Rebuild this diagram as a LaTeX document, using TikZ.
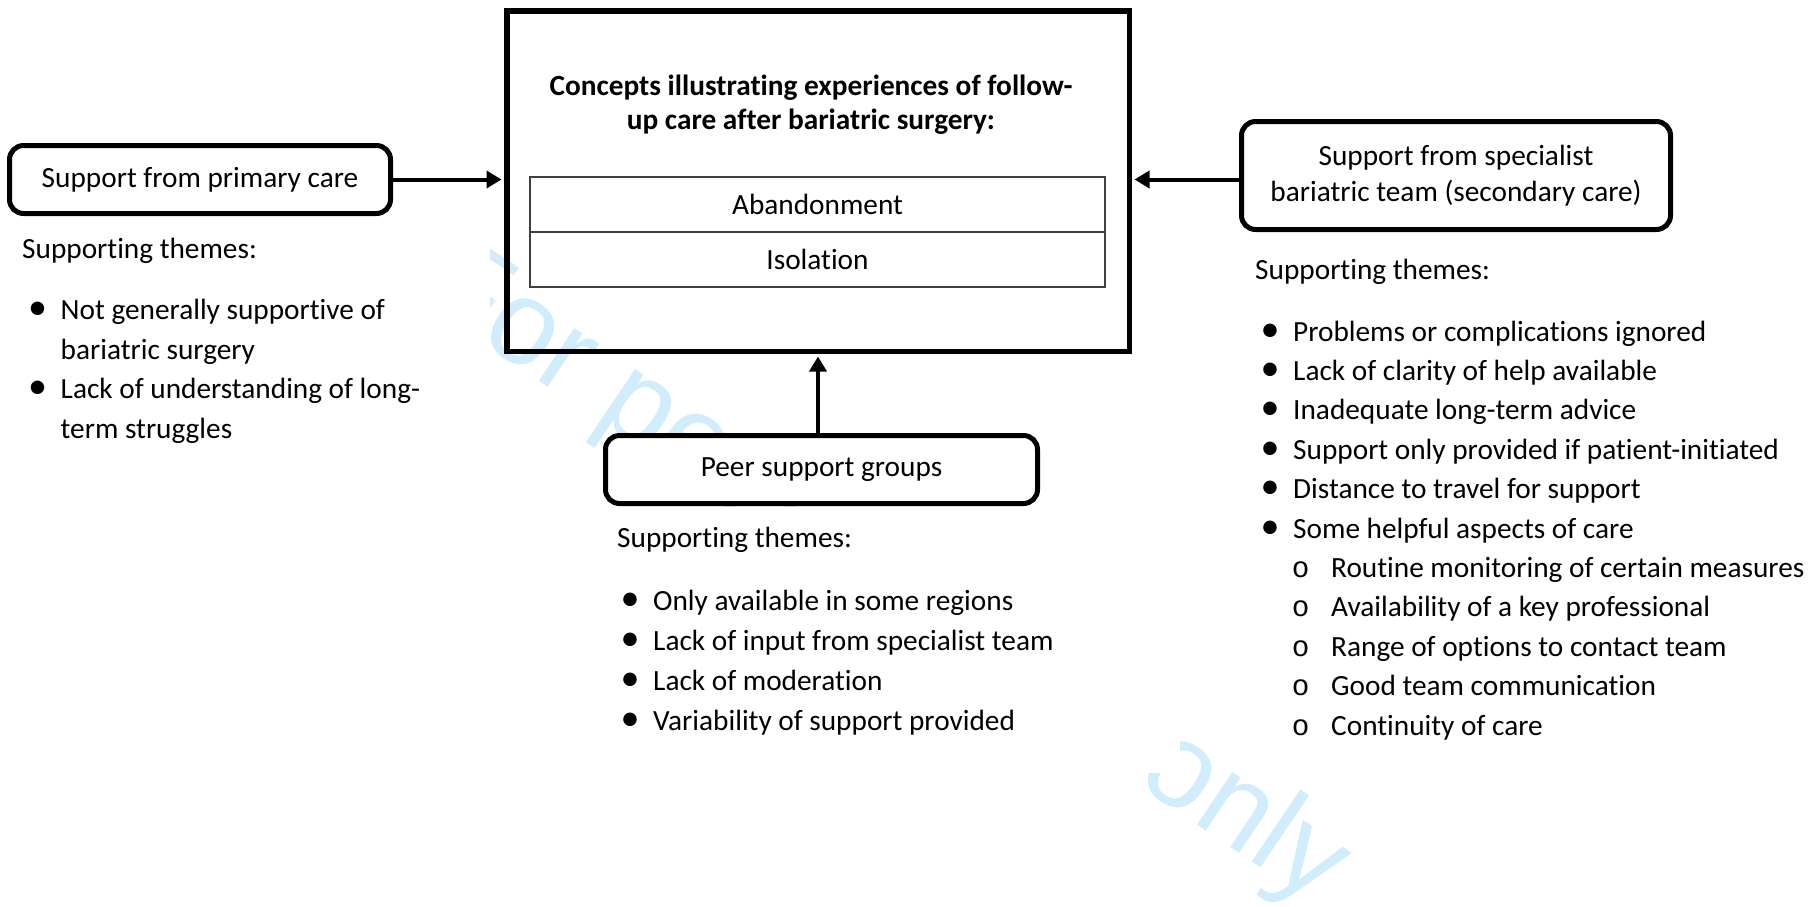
\documentclass[tikz,border=0pt]{standalone}
\usepackage{fontspec}
\setmainfont{Carlito}[Ligatures=NoCommon]
\newfontfamily\wmfont{Liberation Sans}
\newfontfamily\subfont{Liberation Mono}
\usetikzlibrary{arrows.meta}
\definecolor{wmcol}{RGB}{207,237,251}
\newcommand\bodyfont{\fontsize{29.3}{39.4}\selectfont}
\newcommand\leftfont{\fontsize{29.3}{39.7}\selectfont}
\newcommand\peerfont{\fontsize{29.3}{40}\selectfont}
\newcommand\boxfont{\fontsize{29.3}{35.7}\selectfont}
\newcommand\titlefont{\fontsize{29.3}{34}\selectfont\bfseries}
\newcommand\bul{\makebox[0pt]{\scalebox{1.3}{\textbullet}}\hspace*{23pt}}
\newcommand\contl{\hspace*{23pt}}
\newcommand\subbul{\hspace*{30.5pt}\makebox[0pt]{\subfont o}\hspace*{30.5pt}}
\tikzset{
  wm/.style={font=\wmfont\fontsize{120}{120}\selectfont, text=wmcol, inner sep=0pt},
  mainbox/.style={draw, line width=5.5pt, inner sep=0pt},
  cell/.style={draw=black!75, line width=1.3pt, minimum width=575pt, minimum height=55pt, inner sep=0pt, font=\boxfont},
  sbox/.style={draw, line width=5pt, rounded corners=14pt, inner sep=0pt, font=\boxfont, align=center},
  arr/.style={line width=4pt, -{Triangle[length=15pt,width=17pt]}, shorten >=2.5pt},
  txt/.style={font=\bodyfont, inner sep=0pt, anchor=base west}
}
\begin{document}
\begin{tikzpicture}[x=1pt,y=-1pt]
\useasboundingbox (0,0) rectangle (1809,906);
\fill[white] (0,0) rectangle (1809,906);
% watermark
\node[wm, anchor=base west, rotate=-34] (wmark) at (416.1,298.1) {For peer review only};
\fill[white] (0,0) rectangle (490,906);
\fill[white] (600,507) rectangle (1180,773);
% main box
\node[mainbox, minimum width=622.5pt, minimum height=340.5pt] (main) at (818,181) {};
\node[font=\titlefont, align=center, inner sep=0pt] (title) at (811,104.5)
  {Concepts illustrating experiences of follow-\\up care after bariatric surgery:};
\node[cell] (aband) at (817.5,204.5) {Abandonment};
\node[cell] (isol) at (817.5,259.5) {Isolation};
% side boxes
\node[sbox, minimum width=381pt, minimum height=68pt] (primary) at (200,179.5) {Support from primary care};
\node[sbox, minimum width=429pt, minimum height=108pt] (special) at (1456,175.5)
  {Support from specialist\\bariatric team (secondary care)};
\node[sbox, fill=white, minimum width=432pt, minimum height=68pt] (peer) at (821.5,469.5) {Peer support groups};
% arrows
\draw[arr] (primary.east) -- (primary.east -| main.west);
\draw[arr] (special.west |- primary.east) -- (primary.east -| main.east);
\draw[arr] (peer.north -| main.south) -- (main.south);
% left themes
\node[txt] (lhead) at (22,258) {Supporting themes:};
\node[txt, font=\leftfont] (llist) at (37.5,319.5) {\begin{tabular}[t]{@{}l@{}}
\bul Not generally supportive of\\
\contl bariatric surgery\\
\bul Lack of understanding of long-\\
\contl term struggles
\end{tabular}};
% peer themes
\node[txt] (phead) at (617,547) {Supporting themes:};
\node[txt, font=\peerfont] (plist) at (630,610) {\begin{tabular}[t]{@{}l@{}}
\bul Only available in some regions\\
\bul Lack of input from specialist team\\
\bul Lack of moderation\\
\bul Variability of support provided
\end{tabular}};
% right themes
\node[txt] (rhead) at (1255,279) {Supporting themes:};
\node[txt] (rlist) at (1270,341) {\begin{tabular}[t]{@{}l@{}}
\bul Problems or complications ignored\\
\bul Lack of clarity of help available\\
\bul Inadequate long-term advice\\
\bul Support only provided if patient-initiated\\
\bul Distance to travel for support\\
\bul Some helpful aspects of care\\
\subbul Routine monitoring of certain measures\\
\subbul Availability of a key professional\\
\subbul Range of options to contact team\\
\subbul Good team communication\\
\subbul Continuity of care
\end{tabular}};
\end{tikzpicture}
\end{document}
